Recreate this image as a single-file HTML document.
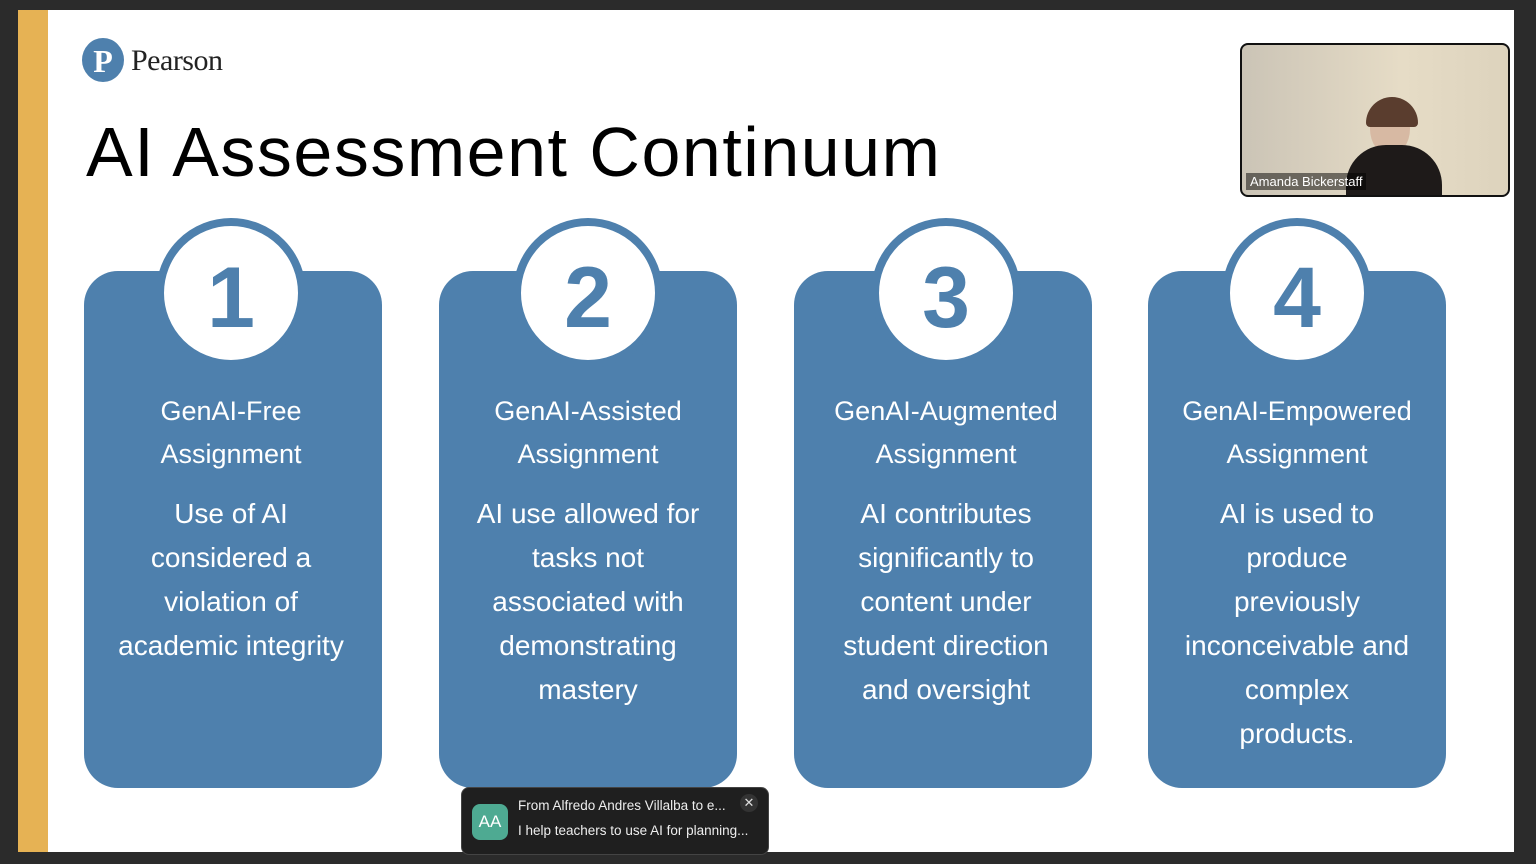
<!DOCTYPE html>
<html><head><style>
body{margin:0;width:1536px;height:864px;background:#2b2b2b;position:relative;overflow:hidden;font-family:"Liberation Sans",sans-serif}
.slide{position:absolute;left:18px;top:10px;width:1496px;height:842px;background:#fff}
.bar{position:absolute;left:18px;top:10px;width:30px;height:842px;background:#e6b254}
.card{position:absolute;top:271px;width:298px;height:517px;background:#4e80ad;border-radius:34px}
.circ{position:absolute;top:218px;width:134px;height:134px;border-radius:50%;background:#fff;border:8px solid #4e80ad;text-align:center;line-height:144px;font-size:86px;font-weight:bold;color:#4e80ad}
.t{position:absolute;top:390px;width:298px;text-align:center;color:#fff;font-size:27px;line-height:43px}
.t .d{margin-top:16px;line-height:44px;font-size:28px}
</style></head><body>
<div class="slide"></div><div class="bar"></div>
<div style="position:absolute;left:82px;top:38px;width:42px;height:44px;border-radius:50%;background:#4e80ad;color:#fff;font:bold 32px 'Liberation Serif',serif;text-align:center;line-height:46px">P</div>
<div style="position:absolute;left:131px;top:44px;font:30px 'Liberation Serif',serif;color:#222;letter-spacing:-0.5px">Pearson</div>
<div style="position:absolute;left:86px;top:112px;font-size:70px;color:#000;letter-spacing:1.5px">AI Assessment Continuum</div>

<div class="card" style="left:84px"></div><div class="circ" style="left:156px">1</div>
<div class="t" style="left:82px">GenAI-Free<br>Assignment<div class="d">Use of AI<br>considered a<br>violation of<br>academic integrity</div></div>

<div class="card" style="left:439px"></div><div class="circ" style="left:513px">2</div>
<div class="t" style="left:439px">GenAI-Assisted<br>Assignment<div class="d">AI use allowed for<br>tasks not<br>associated with<br>demonstrating<br>mastery</div></div>

<div class="card" style="left:794px"></div><div class="circ" style="left:871px">3</div>
<div class="t" style="left:797px">GenAI-Augmented<br>Assignment<div class="d">AI contributes<br>significantly to<br>content under<br>student direction<br>and oversight</div></div>

<div class="card" style="left:1148px"></div><div class="circ" style="left:1222px">4</div>
<div class="t" style="left:1148px">GenAI-Empowered<br>Assignment<div class="d">AI is used to<br>produce<br>previously<br>inconceivable and<br>complex<br>products.</div></div>

<div style="position:absolute;left:1240px;top:43px;width:266px;height:150px;border:2px solid #111;border-radius:8px;background:linear-gradient(90deg,#cbc4b6,#e6dcc6 60%,#ddd3bd);overflow:hidden">
<div style="position:absolute;left:128px;top:58px;width:40px;height:52px;border-radius:50%;background:#d7b9a3"></div>
<div style="position:absolute;left:104px;top:100px;width:96px;height:60px;border-radius:40px 40px 0 0;background:#1e1a19"></div>
<div style="position:absolute;left:124px;top:52px;width:52px;height:30px;border-radius:26px 26px 4px 4px;background:#5a3d2e"></div>
<div style="position:absolute;left:4px;top:128px;background:rgba(0,0,0,.5);color:#fff;font-size:13px;padding:1px 4px">Amanda Bickerstaff</div>
</div>

<div style="position:absolute;left:461px;top:787px;width:306px;height:66px;background:#1f1f1f;border:1px solid #444;border-radius:8px">
<div style="position:absolute;left:10px;top:16px;width:36px;height:36px;border-radius:8px;background:#4eaa92;color:#fff;font-size:17px;text-align:center;line-height:36px">AA</div>
<div style="position:absolute;left:56px;top:10px;color:#eee;font-size:13.5px">From Alfredo Andres Villalba to e...</div>
<div style="position:absolute;left:56px;top:35px;color:#eee;font-size:13.5px">I help teachers to use AI for planning...</div>
<div style="position:absolute;left:278px;top:6px;width:18px;height:18px;border-radius:50%;background:#333;color:#ddd;font-size:13px;text-align:center;line-height:18px">✕</div>
</div>
</body></html>
